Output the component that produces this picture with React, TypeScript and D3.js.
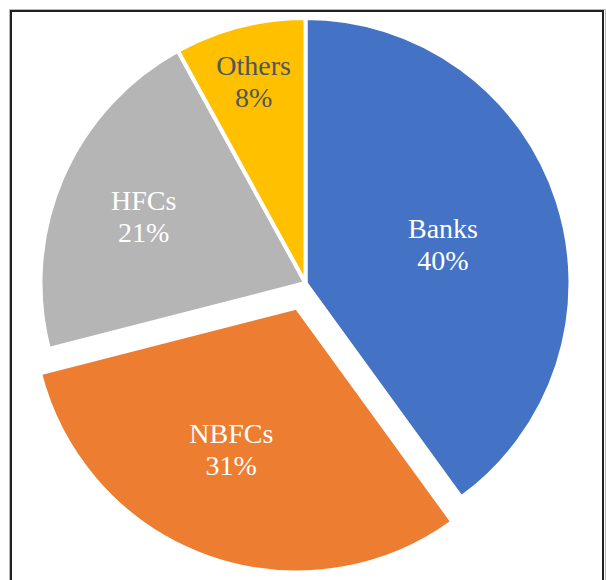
import React from "react";
import * as d3 from "d3";

// Share of lending by institution type
const categories = ["Banks", "NBFCs", "HFCs", "Others"];
const shares = [40, 31, 21, 8];

const colors = ["#4472C4", "#ED7D31", "#B5B5B5", "#FFC000"];
const labelColors = ["#ffffff", "#ffffff", "#ffffff", "#4f5660"];
// Exploded distance (px) and label placement per slice
const explode = [0, 26, 0, 0];
const labelDist = [143, 156, 175, 209];
const labelNudgeDeg = [2, 5, -1, 0];

const W = 606;
const H = 580;
const CX = 305.5;
const CY = 283;
const R = 265;

export default function App() {
  const pie = d3
    .pie<number>()
    .sort(null)
    .value((d) => d)
    .startAngle(0)
    .endAngle(2 * Math.PI);
  const arcs = pie(shares);
  const arc = d3.arc<d3.PieArcDatum<number>>().innerRadius(0).outerRadius(R);

  return (
    <div style={{ position: "absolute", left: 0, top: 0 }}>
      <svg width={W} height={H} style={{ display: "block", background: "#fff" }}>
        <rect x={9.5} y={9.5} width={596} height={H + 20} fill="none" stroke="#b8b8b8" strokeWidth={1} />
        <rect x={11} y={11} width={592} height={H + 20} fill="none" stroke="#1f1f1f" strokeWidth={2} />
        <g transform={`translate(${CX},${CY})`}>
          {arcs.map((a, i) => {
            const mid = (a.startAngle + a.endAngle) / 2;
            const ox = explode[i] * Math.sin(mid);
            const oy = -explode[i] * Math.cos(mid);
            return (
              <path
                key={categories[i]}
                d={arc(a) || ""}
                transform={`translate(${ox},${oy})`}
                fill={colors[i]}
                stroke="#ffffff"
                strokeWidth={4}
                strokeLinejoin="miter"
              />
            );
          })}
          {arcs.map((a, i) => {
            const mid = (a.startAngle + a.endAngle) / 2;
            const ox = explode[i] * Math.sin(mid);
            const oy = -explode[i] * Math.cos(mid);
            const la = mid + (labelNudgeDeg[i] * Math.PI) / 180;
            const lx = ox + labelDist[i] * Math.sin(la);
            const ly = oy - labelDist[i] * Math.cos(la);
            return (
              <text
                key={"l" + categories[i]}
                x={lx}
                y={ly}
                textAnchor="middle"
                fontFamily="'Liberation Serif', 'Times New Roman', serif"
                fontSize={28}
                fill={labelColors[i]}
              >
                <tspan x={lx} dy={-6}>{categories[i]}</tspan>
                <tspan x={lx} dy={32}>{`${shares[i]}%`}</tspan>
              </text>
            );
          })}
        </g>
      </svg>
    </div>
  );
}
